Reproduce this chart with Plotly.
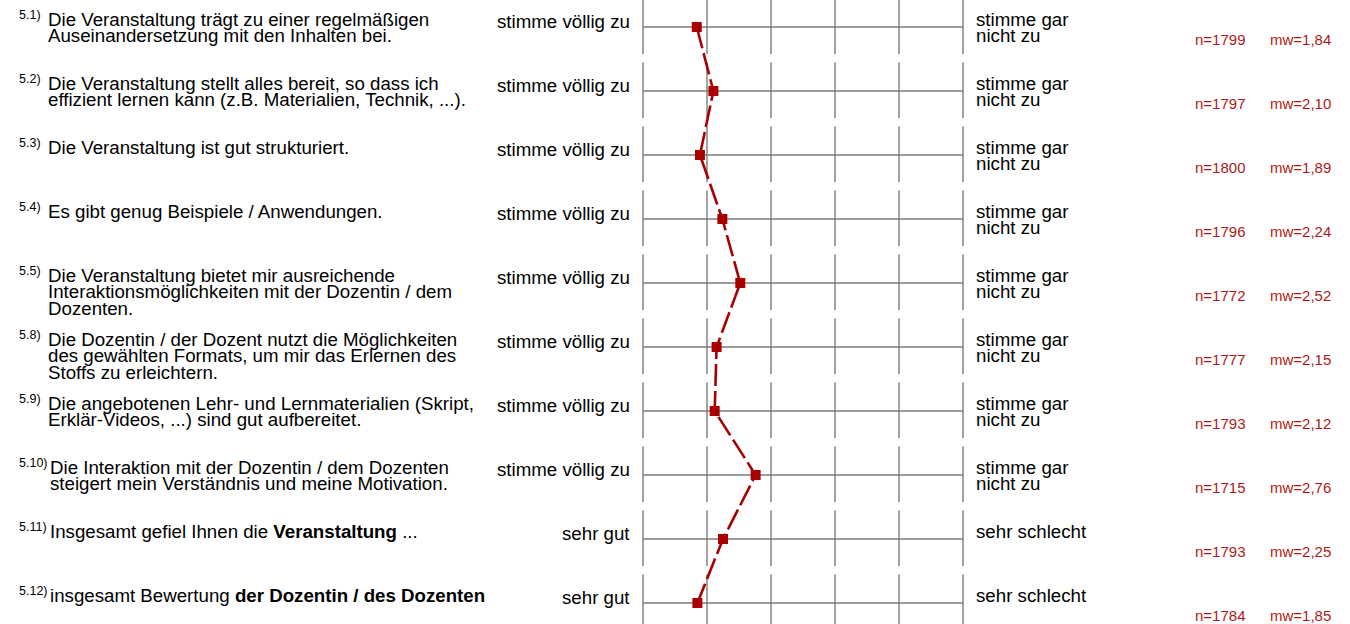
import plotly.graph_objects as go

# ---------------- data ----------------
item_numbers = ["5.1)", "5.2)", "5.3)", "5.4)", "5.5)", "5.8)", "5.9)", "5.10)", "5.11)", "5.12)"]
item_texts = [
    ["Die Veranstaltung trägt zu einer regelmäßigen", "Auseinandersetzung mit den Inhalten bei."],
    ["Die Veranstaltung stellt alles bereit, so dass ich", "effizient lernen kann (z.B. Materialien, Technik, ...)."],
    ["Die Veranstaltung ist gut strukturiert."],
    ["Es gibt genug Beispiele / Anwendungen."],
    ["Die Veranstaltung bietet mir ausreichende", "Interaktionsmöglichkeiten mit der Dozentin / dem", "Dozenten."],
    ["Die Dozentin / der Dozent nutzt die Möglichkeiten", "des gewählten Formats, um mir das Erlernen des", "Stoffs zu erleichtern."],
    ["Die angebotenen Lehr- und Lernmaterialien (Skript,", "Erklär-Videos, ...) sind gut aufbereitet."],
    ["Die Interaktion mit der Dozentin / dem Dozenten", "steigert mein Verständnis und meine Motivation."],
    ["Insgesamt gefiel Ihnen die <b>Veranstaltung</b> ..."],
    ["insgesamt Bewertung <b>der Dozentin / des Dozenten</b>"],
]
left_poles = ["stimme völlig zu"] * 8 + ["sehr gut"] * 2
right_poles = [["stimme gar", "nicht zu"]] * 8 + [["sehr schlecht"]] * 2
n_values = [1799, 1797, 1800, 1796, 1772, 1777, 1793, 1715, 1793, 1784]
mean_values = [1.84, 2.10, 1.89, 2.24, 2.52, 2.15, 2.12, 2.76, 2.25, 1.85]
scale_points = [1, 2, 3, 4, 5, 6]

# ---------------- layout geometry (pixels) ----------------
W, H = 1350, 624
X0_PX, STEP_PX = 643, 64          # pixel of scale point 1, pixels per scale step
ROW0_PX, ROW_PX = 27, 64          # pixel of first row centre, row pitch
x_range = [1 - X0_PX / STEP_PX, 1 + (W - X0_PX) / STEP_PX]
y_range = [(H - ROW0_PX) / ROW_PX, -ROW0_PX / ROW_PX]

RED = "#a80000"
TXT_RED = "#b01818"
FONT = "Liberation Sans, Arial, sans-serif"
FS_MAIN = 18.7
FS_NUM = 12.5
FS_STAT = 15

rows = list(range(len(mean_values)))

fig = go.Figure()

shapes = []
for i in rows:
    # horizontal line of each row
    shapes.append(dict(type="line", xref="x", yref="y", x0=scale_points[0], x1=scale_points[-1],
                       y0=i, y1=i, line=dict(color="#7a7a7a", width=1.6), layer="below"))
    # vertical tick segments
    for sp in scale_points:
        shapes.append(dict(type="line", xref="x", yref="y", x0=sp, x1=sp,
                           y0=i - 28.5 / ROW_PX, y1=i + 27 / ROW_PX,
                           line=dict(color="#7a7a7a", width=1.4), layer="below"))

fig.add_trace(go.Scatter(
    x=mean_values, y=rows, mode="lines+markers",
    line=dict(color=RED, width=2.6, dash="22px,5px"),
    marker=dict(symbol="square", size=10, color=RED),
    hoverinfo="skip",
))


def py2paper(py):
    return 1 - py / H


def ann(text, px, baseline_px, fs, xanchor="left", color="#000"):
    centre = baseline_px - 0.3465 * fs
    return dict(text=text, x=px / W, y=py2paper(centre), xref="paper", yref="paper",
                xanchor=xanchor, yanchor="middle", showarrow=False,
                font=dict(family=FONT, size=fs, color=color), borderpad=0, borderwidth=0)


annotations = []
for i in rows:
    cy = ROW0_PX + ROW_PX * i
    annotations.append(ann(item_numbers[i], 19, cy - 7.5, FS_NUM))
    tx = 48 if len(item_numbers[i]) <= 4 else 50
    for k, line in enumerate(item_texts[i]):
        annotations.append(ann(line, tx, cy - 1 + 16.3 * k, FS_MAIN))
    annotations.append(ann(left_poles[i], 630, cy + 0.5, FS_MAIN, xanchor="right"))
    for k, line in enumerate(right_poles[i]):
        annotations.append(ann(line, 976, cy - 1 + 16 * k, FS_MAIN))
    annotations.append(ann(f"n={n_values[i]}", 1195, cy + 17.5, FS_STAT, color=TXT_RED))
    annotations.append(ann("mw=" + f"{mean_values[i]:.2f}".replace(".", ","), 1270, cy + 17.5,
                           FS_STAT, color=TXT_RED))

fig.update_layout(
    width=W, height=H,
    margin=dict(l=0, r=0, t=0, b=0),
    paper_bgcolor="white", plot_bgcolor="white",
    showlegend=False,
    xaxis=dict(range=x_range, visible=False, fixedrange=True),
    yaxis=dict(range=y_range, visible=False, fixedrange=True),
    shapes=shapes,
    annotations=annotations,
)

fig.write_html("out.html", config={"displayModeBar": False},
               post_script="document.body.style.margin='0px';document.body.style.overflow='hidden';")
